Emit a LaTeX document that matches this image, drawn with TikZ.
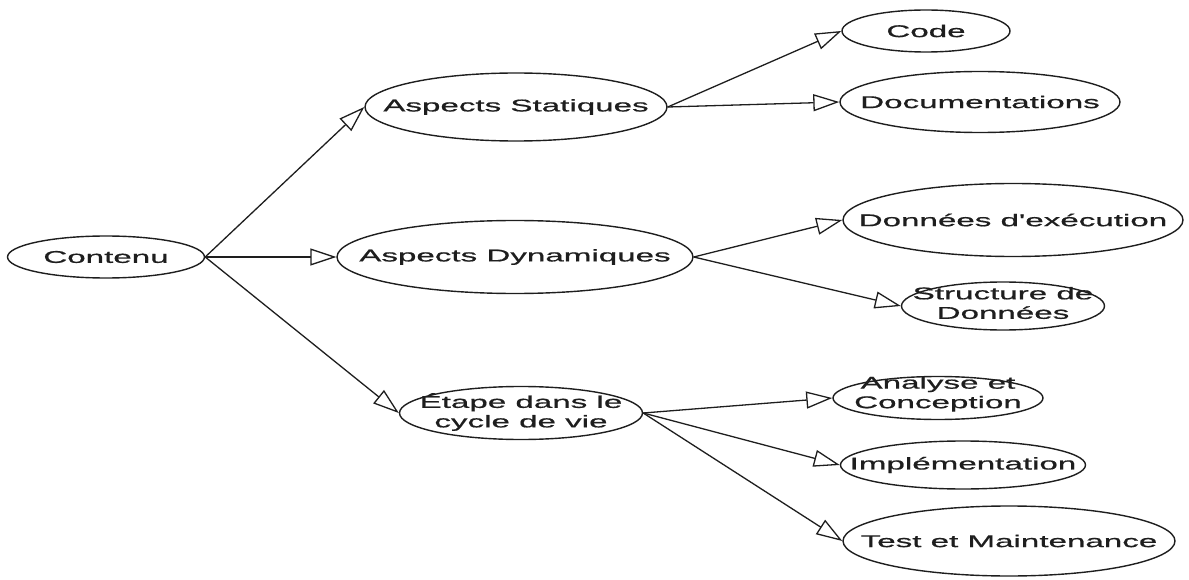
\documentclass[tikz,border=0pt]{standalone}
\usepackage{fontspec}
\newfontfamily\labelfont{Liberation Sans}[FakeStretch=1.95, FakeBold=0.8]
\usetikzlibrary{shapes.geometric,arrows.meta}
\definecolor{ink}{HTML}{1E1E1E}
\tikzset{
  oval/.style={draw=ink, ellipse, line width=1.4pt, inner sep=0pt},
  txt/.style={inner sep=0pt, align=center, text=ink,
    font=\labelfont\fontsize{17}{19.5}\selectfont},
  link/.style={draw=ink, line width=1.3pt,
    -{Triangle[open, length=26pt, width=17pt, line width=1.3pt]}}
}
\begin{document}
\begin{tikzpicture}[x=1pt, y=-1pt]
\useasboundingbox (0,0) rectangle (1189,580);

% root
\node[oval, minimum width=197, minimum height=42] (contenu) at (106,257) {};
\node[txt] (contenu-t) at (contenu) {Contenu};

% second level
\node[oval, minimum width=302, minimum height=68] (stat) at (516,107) {};
\node[txt] (stat-t) at (stat) {Aspects Statiques};
\node[oval, minimum width=356, minimum height=73] (dyn) at (515,257) {};
\node[txt] (dyn-t) at (dyn) {Aspects Dynamiques};
\node[oval, minimum width=243, minimum height=53] (etape) at (521,413) {};
\node[txt] (etape-t) at (521,412) {Étape dans le\\cycle de vie};

% leaves
\node[oval, minimum width=168, minimum height=42] (code) at (926,31) {};
\node[txt] (code-t) at (code) {Code};
\node[oval, minimum width=280, minimum height=61] (doc) at (980,102) {};
\node[txt] (doc-t) at (doc) {Documentations};
\node[oval, minimum width=340, minimum height=73] (exec) at (1013,220) {};
\node[txt] (exec-t) at (exec) {Données d'exécution};
\node[oval, minimum width=203, minimum height=48] (struct) at (1003,306) {};
\node[txt] (struct-t) at (1003,303) {Structure de\\Données};
\node[oval, minimum width=210, minimum height=43] (analyse) at (938,398) {};
\node[txt] (analyse-t) at (938,394) {Analyse et\\Conception};
\node[oval, minimum width=245, minimum height=48] (impl) at (963,465) {};
\node[txt] (impl-t) at (impl) {Implémentation};
\node[oval, minimum width=332, minimum height=70] (test) at (1009,541) {};
\node[txt] (test-t) at (test) {Test et Maintenance};

% connectors
\draw[link] (contenu.east) -- (stat.west);
\draw[link] (contenu.east) -- (dyn.west);
\draw[link] (contenu.east) -- (etape.west);
\draw[link] (stat.east) -- (code.west);
\draw[link] (stat.east) -- (doc.west);
\draw[link] (dyn.east) -- (exec.west);
\draw[link] (dyn.east) -- (struct.west);
\draw[link] (etape.east) -- (analyse.west);
\draw[link] (etape.east) -- (impl.west);
\draw[link] (etape.east) -- (test.west);
\end{tikzpicture}
\end{document}
